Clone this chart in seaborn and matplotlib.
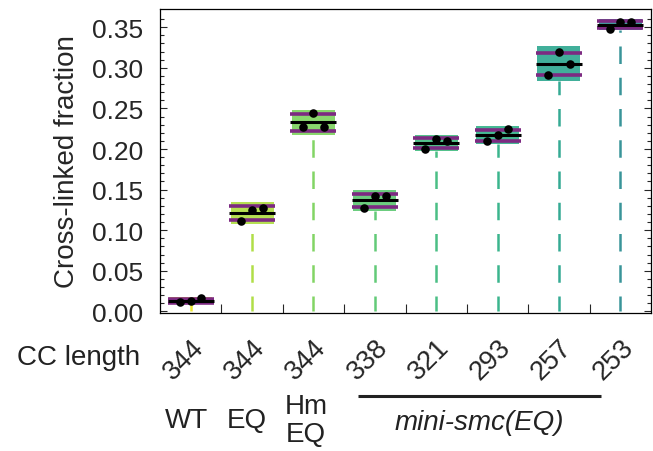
import numpy as np
import pandas as pd
import seaborn as sns
import matplotlib
matplotlib.use("Agg")
import matplotlib.pyplot as plt
from matplotlib.transforms import ScaledTranslation, blended_transform_factory

# values: 3 replicates per construct (left, middle, right dot)
cc_length = ["344", "344", "344", "338", "321", "293", "257", "253"]
names = ["WT", "EQ", "Hm\nEQ"]
rep_left = [0.0111, 0.1108, 0.2266, 0.1272, 0.2003, 0.2097, 0.2914, 0.3480]
rep_mid = [0.0127, 0.1247, 0.2442, 0.1416, 0.2118, 0.2167, 0.3190, 0.3559]
rep_right = [0.0160, 0.1272, 0.2273, 0.1416, 0.2101, 0.2241, 0.3046, 0.3559]
dot_offset = [-0.175, 0.0, 0.175]

sns.set_style("ticks")
plt.rcParams['font.family'] = ['Liberation Sans', 'DejaVu Sans']
plt.rcParams['text.color'] = '#222222'

vir = sns.color_palette("viridis", as_cmap=True)
colors = [vir(v) for v in [0.97, 0.87, 0.79, 0.73, 0.67, 0.62, 0.57, 0.47]]
purple = '#7d2a82'

reps = np.array([rep_left, rep_mid, rep_right])
mean = reps.mean(axis=0)
sd = reps.std(axis=0, ddof=1)
xs = np.arange(len(cc_length))

rows = []
for j, off in enumerate(dot_offset):
    for i in xs:
        rows.append({"x": i + off, "value": reps[j, i]})
df = pd.DataFrame(rows)

fig = plt.figure(figsize=(6.53, 4.52), dpi=100)
ax = fig.add_axes([0.245, 0.3053, 0.752, 0.6726])

# dashed stems from zero up to the box
for i in xs:
    ax.plot([i, i], [0, mean[i] - 1.55 * sd[i]], color=colors[i], alpha=0.9,
            lw=1.8, linestyle=(1, (7, 5.5)), zorder=1)

ax.bar(xs, 2 * 1.55 * sd, bottom=mean - 1.55 * sd, width=0.7, color=colors,
       alpha=0.85, zorder=2, linewidth=0)
ax.hlines(mean + sd, xs - 0.375, xs + 0.375, color=purple, lw=2.6, zorder=3)
ax.hlines(mean - sd, xs - 0.375, xs + 0.375, color=purple, lw=2.6, zorder=3)
ax.hlines(mean, xs - 0.375, xs + 0.375, color='black', lw=2.2, zorder=4)

sns.scatterplot(data=df, x="x", y="value", color="black", s=38, linewidth=0,
                zorder=5, ax=ax)

ax.set_xlim(-0.5, 7.5)
ax.set_ylim(-0.002, 0.3725)
ax.set_xlabel("")
ax.set_ylabel("Cross-linked fraction", fontsize=20, labelpad=9)

ax.set_yticks(np.arange(0, 0.351, 0.05))
ax.set_yticklabels([f"{v:.2f}" for v in np.arange(0, 0.351, 0.05)])
ax.set_yticks(np.arange(0, 0.37, 0.01), minor=True)
ax.tick_params(axis='y', which='both', direction='in', right=True, left=True,
               width=0.8, labelsize=19, pad=12)
ax.tick_params(axis='y', which='major', length=5)
ax.tick_params(axis='y', which='minor', length=3)

ax.set_xticks(xs)
ax.set_xticklabels(cc_length, rotation=45, ha='center', va='center')
ax.set_xticks(xs[:-1] + 0.5, minor=True)
ax.tick_params(axis='x', which='major', length=0, labelsize=19.5, pad=33)
ax.tick_params(axis='x', which='minor', direction='in', length=6.5, width=0.8,
               bottom=True, top=False)
for lab in ax.get_xticklabels():
    lab.set_transform(lab.get_transform() + ScaledTranslation(-0.07, 0, fig.dpi_scale_trans))

for s in ax.spines.values():
    s.set_linewidth(0.9)
    s.set_color('black')

trans = blended_transform_factory(ax.transData, ax.transAxes)
for i, (nm, off) in enumerate(zip(names, [-0.06, -0.08, -0.12])):
    ax.text(i + off, -0.352, nm, transform=trans, ha='center', va='center',
            fontsize=20, linespacing=1.1)
ax.plot([2.727, 6.688], [-0.272, -0.272], transform=trans, color='#222222',
        lw=2.2, clip_on=False, solid_capstyle='butt')
ax.text(4.70, -0.358, "mini-smc(EQ)", transform=trans, ha='center', va='center',
        fontsize=20, style='italic')
fig.text(140 / 653, 1 - 358 / 452, "CC length", ha='right', va='center', fontsize=20)

fig.savefig("out.png", dpi=100)
